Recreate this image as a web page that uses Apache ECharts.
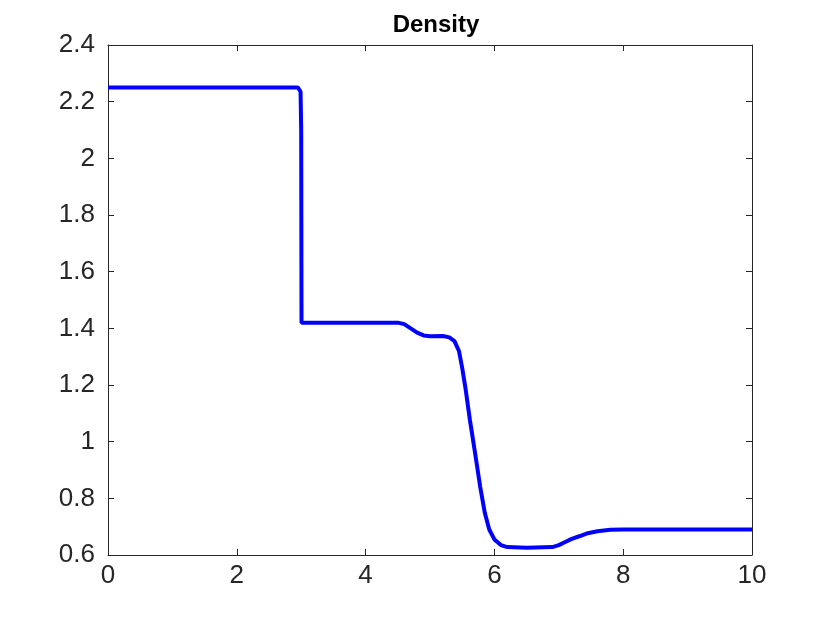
<!DOCTYPE html>
<html>
<head>
<meta charset="utf-8">
<script src="https://cdn.jsdelivr.net/npm/echarts@6/dist/echarts.min.js"></script>
<style>html,body{margin:0;padding:0;background:#fff}#c{width:830px;height:623px}</style>
</head>
<body>
<div id="c"></div>
<script>
var titleText = 'Density';
var xs = [0, 2.95, 2.99, 3.0, 3.005, 4.5, 4.6, 4.7, 4.8, 4.9, 5.0, 5.2, 5.3, 5.38, 5.45, 5.5, 5.55, 5.62, 5.70, 5.78, 5.85, 5.92, 6.0, 6.1, 6.2, 6.5, 6.9, 7.0, 7.1, 7.2, 7.33, 7.45, 7.6, 7.8, 8.0, 10];
var ys = [2.25, 2.25, 2.235, 2.1, 1.42, 1.42, 1.415, 1.40, 1.385, 1.375, 1.372, 1.373, 1.368, 1.355, 1.32, 1.26, 1.19, 1.076, 0.96, 0.84, 0.75, 0.69, 0.655, 0.635, 0.628, 0.626, 0.628, 0.635, 0.646, 0.657, 0.667, 0.677, 0.684, 0.689, 0.69, 0.69];
var xRange = [0, 10, 2];
var yRange = [0.6, 2.4, 0.2];

var data = xs.map(function (x, i) { return [x, ys[i]]; });
var axisColor = '#262626';
var font = 'Liberation Sans, Arial, Helvetica, sans-serif';
function axisBase(show) {
  return {
    axisLine: { show: true, onZero: false, lineStyle: { color: axisColor, width: 1 } },
    axisTick: { show: true, inside: true, length: 6, lineStyle: { color: axisColor } },
    splitLine: { show: false },
    axisLabel: { show: show, color: axisColor, fontSize: 26, fontFamily: font }
  };
}
var xb = Object.assign({ type: 'value', min: xRange[0], max: xRange[1], interval: xRange[2], position: 'bottom' }, axisBase(true));
xb.axisLabel.margin = 8;
var xt = Object.assign({ type: 'value', min: xRange[0], max: xRange[1], interval: xRange[2], position: 'top' }, axisBase(false));
var yl = Object.assign({ type: 'value', min: yRange[0], max: yRange[1], interval: yRange[2], position: 'left' }, axisBase(true));
yl.axisLabel.margin = 13;
var yr = Object.assign({ type: 'value', min: yRange[0], max: yRange[1], interval: yRange[2], position: 'right' }, axisBase(false));

var chart = echarts.init(document.getElementById('c'), null, { renderer: 'canvas' });
chart.setOption({
  animation: false,
  backgroundColor: '#fff',
  title: { text: titleText, left: 431, textAlign: 'center', top: 8,
    textStyle: { fontSize: 24, fontWeight: 'bold', color: '#000', fontFamily: font } },
  grid: { left: 108, right: 78, top: 45, bottom: 68 },
  xAxis: [xb, xt],
  yAxis: [yl, yr],
  series: [{
    type: 'line', data: data, showSymbol: false, symbol: 'none',
    lineStyle: { color: '#0000ff', width: 4 }, itemStyle: { color: '#0000ff' }
  }]
});
</script>
</body>
</html>
